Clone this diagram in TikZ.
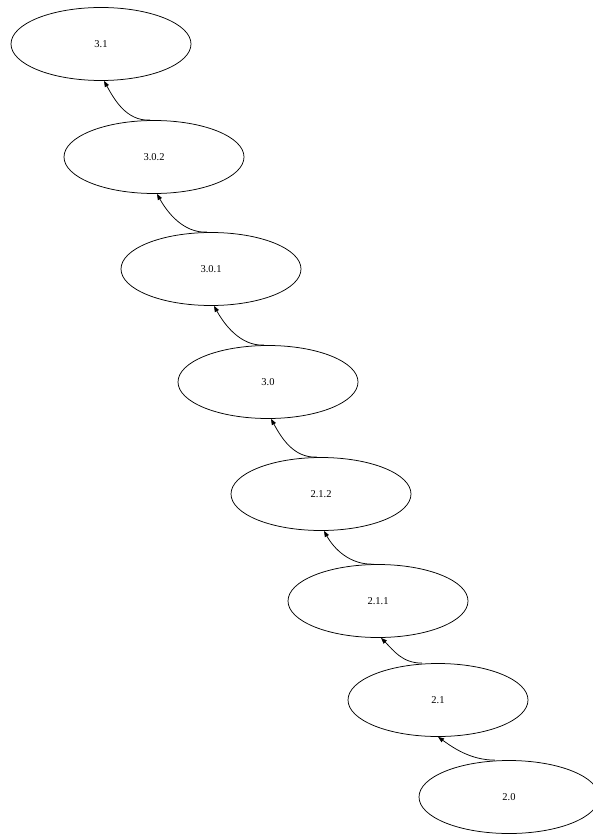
\documentclass[tikz,border=0pt]{standalone}
\usepackage{fontspec}
\setmainfont{Liberation Serif}
\usetikzlibrary{shapes.geometric,arrows.meta}
\tikzset{
  ver/.style={draw, ellipse, minimum width=180pt, minimum height=73pt, inner sep=0pt, font=\fontsize{10.5}{12}\selectfont, line width=0.75pt},
  link/.style={-{Triangle[length=6pt,width=4.5pt]}, line width=0.75pt},
}
\begin{document}
\begin{tikzpicture}[x=1pt,y=1pt]
\useasboundingbox (0,0) rectangle (592,-834);
\node[ver] (n31)  at (101,-44)  {3.1};
\node[ver] (n302) at (154,-157) {3.0.2};
\node[ver] (n301) at (211,-269) {3.0.1};
\node[ver] (n30)  at (268,-382) {3.0};
\node[ver] (n212) at (321,-494) {2.1.2};
\node[ver] (n211) at (378,-601) {2.1.1};
\node[ver] (n21)  at (438,-700) {2.1};
\node[ver] (n20)  at (509,-797) {2.0};
\draw[link] ([xshift=-4pt]n302.north) .. controls +(-24,-1) and +(10,-18) .. ([xshift=3pt]n31.south);
\draw[link] ([xshift=-4pt]n301.north) .. controls +(-24,-1) and +(10,-18) .. ([xshift=3pt]n302.south);
\draw[link] ([xshift=-4pt]n30.north) .. controls +(-24,-1) and +(10,-18) .. ([xshift=3pt]n301.south);
\draw[link] ([xshift=-4pt]n212.north) .. controls +(-24,-1) and +(10,-18) .. ([xshift=3pt]n30.south);
\draw[link] ([xshift=-4pt]n211.north) .. controls +(-24,-1) and +(10,-18) .. ([xshift=3pt]n212.south);
\draw[link] ([xshift=-16pt]n21.north) .. controls +(-20,0) and +(12,-12) .. ([xshift=3pt]n211.south);
\draw[link] ([xshift=-14pt]n20.north) .. controls +(-25,0) and +(14,-10) .. ([xshift=0pt]n21.south);
\end{tikzpicture}
\end{document}
